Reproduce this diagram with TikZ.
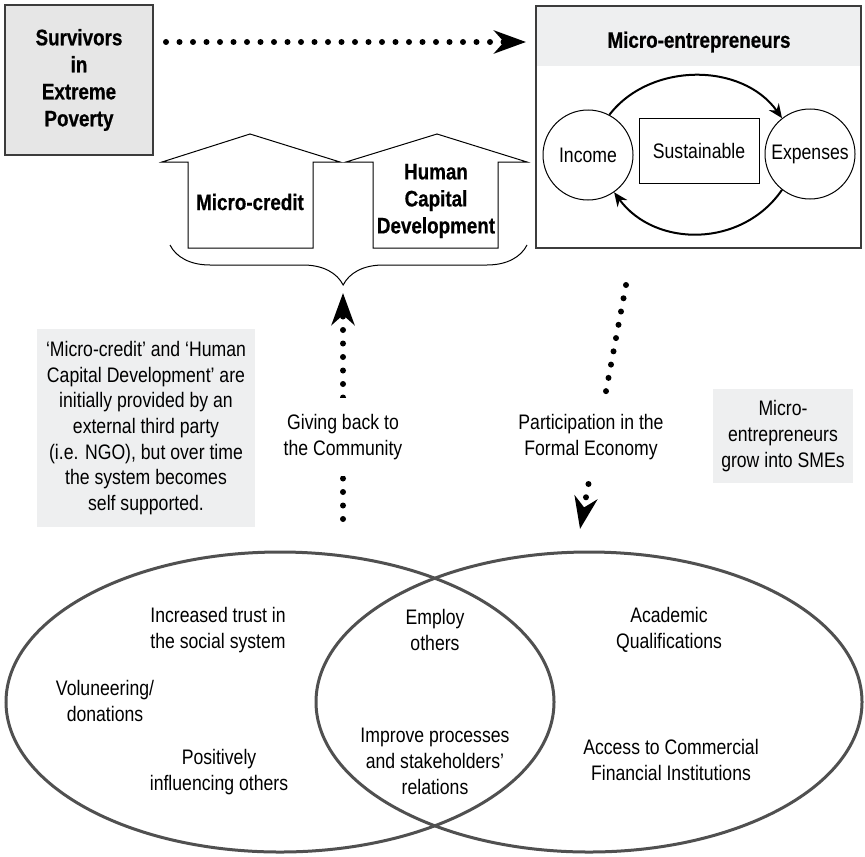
\documentclass[tikz,border=0pt]{standalone}
\usepackage{fontspec}
\setmainfont{Liberation Sans}[FakeStretch=0.84,BoldFeatures={FakeBold=0.6}]
\usetikzlibrary{arrows.meta,decorations.pathreplacing}
\definecolor{boxgray}{HTML}{E6E6E6}
\definecolor{headgray}{HTML}{EEEFF0}
\definecolor{notegray}{HTML}{EEEFF0}
\definecolor{linegray}{HTML}{3C3C3C}
\definecolor{venngray}{HTML}{505050}

\begin{document}
\begin{tikzpicture}[x=0.5pt,y=-0.5pt,
  lbl/.style={align=center,inner sep=0pt,font=\fontsize{10.5}{13}\selectfont},
  title/.style={lbl,font=\fontsize{11.2}{13.5}\selectfont\bfseries},
  notebox/.style={fill=notegray,align=center,inner sep=0pt,font=\fontsize{10.5}{12.8}\selectfont},
  bigtip/.style={-{Stealth[length=16pt,width=11.5pt,inset=5pt]}},
  dotline/.style={line width=3pt,line cap=round,dash pattern=on 0pt off 6.75pt},
  house/.style={draw,line width=0.5pt},
  cycarrow/.style={line width=1pt,-{Stealth[length=7pt,width=6pt]}},
  venn/.style={draw=venngray,line width=1.5pt}]
\useasboundingbox (0,0) rectangle (865,856);

% top row
\node[title,draw=linegray,line width=1pt,fill=boxgray,minimum width=74pt,minimum height=75pt] (surv) at (79,80) {Survivors\\in\\Extreme\\Poverty};
\fill[headgray] (536,6) rectangle (861,66);
\node[draw=linegray,line width=1pt,minimum width=162.5pt,minimum height=121pt,inner sep=0pt] (micro) at (698.5,127) {};
\node[title] (mtitle) at (699,42) {Micro-entrepreneurs};
\draw[dotline,bigtip,shorten <=6pt,shorten >=4.5pt] (surv.east |- mtitle) -- (micro.west |- mtitle);

% income / expenses loop
\node[lbl,draw,circle,line width=0.5pt,minimum size=45pt] (inc) at (588,155) {Income};
\node[lbl,draw,circle,line width=0.5pt,minimum size=45pt] (exp) at (810,154) {Expenses};
\node[lbl,draw,line width=0.5pt,minimum width=60pt,minimum height=32.5pt] (sust) at (699,151) {Sustainable};
\draw[cycarrow] (inc.62) .. controls (650,62) and (742,62) .. (exp.128);
\draw[cycarrow] (exp.-128) .. controls (742,248) and (655,248) .. (inc.-55);

% block arrows and brace
\draw[house] (188,248) -- (188,162) -- (162,162) -- (250,134) -- (340,162) -- (313,162) -- (313,248) -- cycle;
\node[title] (credit) at (250,202) {Micro-credit};
\draw[house] (373,248) -- (373,162) -- (346,162) -- (437,134) -- (527,162) -- (498,162) -- (498,248) -- cycle;
\node[title] (human) at (436,201) {Human\\Capital\\Development};
\draw[line width=0.5pt,decorate,decoration={brace,mirror,amplitude=20pt,aspect=0.485}] (170,245) -- (527,245);

% connectors to and from the Venn
\coordinate (bracetip) at (343,287);
\coordinate (givefoot) at (343,519);
\draw[dotline,bigtip,shorten >=3pt] (givefoot) -- (bracetip);
\node[lbl,fill=white,inner ysep=8pt,inner xsep=2pt] (give) at (343,437) {Giving back to\\the Community};
\coordinate (parttop) at (626,285);
\coordinate (parttip) at (580,529);
\draw[dotline,bigtip] (parttop) -- (parttip);
\node[lbl,fill=white,inner ysep=8pt,inner xsep=2pt] (part) at (591,437) {Participation in the\\Formal Economy};

% notes
\node[notebox,minimum width=109pt,minimum height=99pt] (note) at (146,428) {‘Micro-credit’ and ‘Human\\Capital Development’ are\\initially provided by an\\external third party\\(i.e. NGO), but over time\\the system becomes\\self supported.};
\node[notebox,minimum width=70pt,minimum height=47pt] (sme) at (783,436) {Micro-\\entrepreneurs\\grow into SMEs};

% Venn
\draw[venn] (280,702) ellipse [x radius=137pt,y radius=75pt];
\draw[venn] (589,702) ellipse [x radius=136.5pt,y radius=75pt];
\node[lbl] (trust) at (218,630) {Increased trust in\\the social system};
\node[lbl] (volun) at (105,701) {Voluneering/\\donations};
\node[lbl] (posit) at (219,772) {Positively\\influencing others};
\node[lbl] (employ) at (435,630) {Employ\\others};
\node[lbl] (improve) at (435,761) {Improve processes\\and stakeholders’\\relations};
\node[lbl] (acad) at (669,630) {Academic\\Qualifications};
\node[lbl] (access) at (671,760) {Access to Commercial\\Financial Institutions};
\end{tikzpicture}
\end{document}
